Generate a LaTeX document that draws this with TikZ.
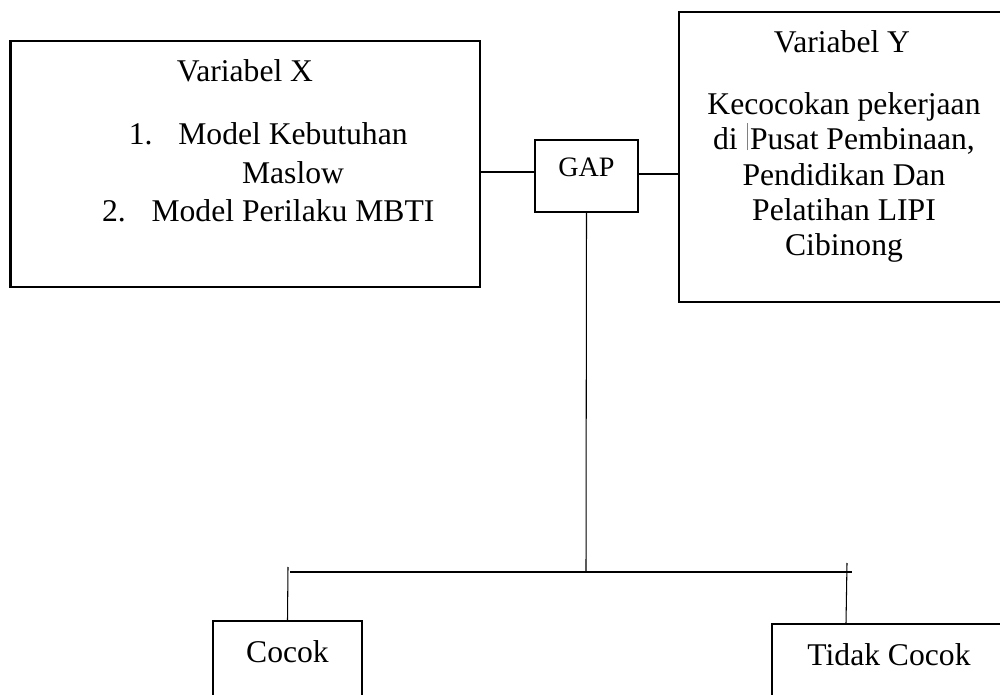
\documentclass[tikz,border=0pt]{standalone}
\usepackage{fontspec}
\setmainfont{Liberation Serif}
\begin{document}
\begin{tikzpicture}[x=0.02cm,y=-0.02cm,
	box/.style={draw,line width=1.2pt,inner sep=0pt},
	wire/.style={line width=0.6pt},
	txt/.style={inner sep=0pt,anchor=base,align=center,font=\fontsize{18}{22}\selectfont}]
	\useasboundingbox (0,0) rectangle (1000,695);
	\node[box,minimum width=9.39cm,minimum height=4.92cm] (varx) at (245.25,164) {};
	\node[box,minimum width=6.48cm,minimum height=5.8cm] (vary) at (841,157) {};
	\node[box,minimum width=2.06cm,minimum height=1.44cm] (gap) at (586.5,176) {};
	\node[box,minimum width=2.98cm,minimum height=1.68cm] (cocok) at (287.5,663) {};
	\node[box,minimum width=4.68cm,minimum height=1.62cm] (tidak) at (889,664.5) {};
	% multi-line texts sit on their last baseline
	\node[txt] (xtitle) at (245,82) {Variabel X};
	\node[txt] (xlist) at (293,222) {\llap{1.\hspace{14.7pt}}Model Kebutuhan\\Maslow\\\llap{2.\hspace{14.7pt}}Model Perilaku MBTI};
	\node[txt] (ytitle) at (842,53) {Variabel Y};
	\node[txt,font=\fontsize{18}{20.2}\selectfont] (ybody) at (844,256) {Kecocokan pekerjaan\\di\hspace{5pt}\textcolor{gray}{\rule{0.5pt}{15pt}}\hspace{1.5pt}Pusat Pembinaan,\\Pendidikan Dan\\Pelatihan LIPI\\Cibinong};
	\node[txt,font=\fontsize{16}{19}\selectfont] (gaptext) at (586.5,177) {GAP};
	\node[txt] (cocoktext) at (287.5,662) {Cocok};
	\node[txt] (tidaktext) at (889,665) {Tidak Cocok};
	\coordinate (hub) at (586,572);
	\coordinate (hl) at (290,572);
	\coordinate (hr) at (852,572);
	\coordinate (jl) at (288,567);
	\coordinate (jr) at (847,563);
	 \draw[wire] (varx.east |- 0,172) -- (gap.west |- 0,172);
	 \draw[wire] (gap.east |- 0,174) -- (vary.west |- 0,174);
	 \draw[wire] (gap.south) -- (hub);
	 \draw[wire] (hl) -- (hr);
	 \draw[wire] (jl) -- (cocok.north);
	 \draw[wire] (jr) -- (tidak.north -| 846,0);
\end{tikzpicture}
\end{document}
